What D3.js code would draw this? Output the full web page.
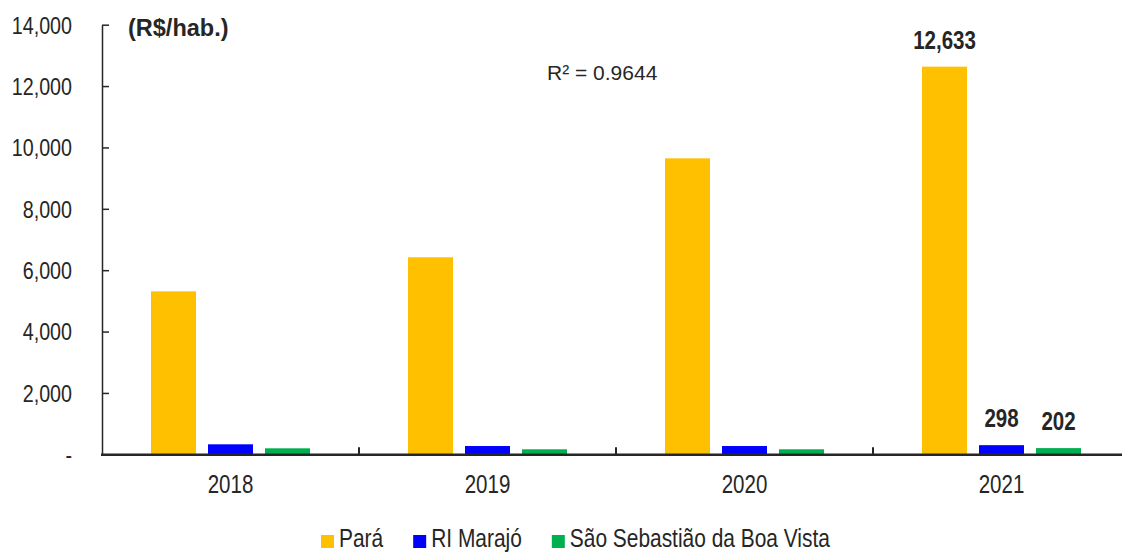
<!DOCTYPE html>
<html>
<head>
<meta charset="utf-8">
<script src="https://cdn.jsdelivr.net/npm/d3@7"></script>
<style>
  body { margin: 0; background: #fff; }
  svg text { font-family: "Liberation Sans Narrow", "Arial Narrow", "Liberation Sans", Arial, sans-serif; fill: #262626; }
</style>
</head>
<body>
<script>
// data
var years = ["2018", "2019", "2020", "2021"];
var series = ["Pará", "RI Marajó", "São Sebastião da Boa Vista"];
var para = [5310, 6420, 9645, 12633];
var marajo = [326, 270, 270, 298];
var ssbv = [195, 163, 163, 202];
var colors = ["#FFC000", "#0000FF", "#00B050"];
var yTicks = [0, 2000, 4000, 6000, 8000, 10000, 12000, 14000];
var unitLabel = "(R$/hab.)";
var r2Label = "R² = 0.9644";

var w = 1122, h = 553;
var x0 = 102, y0 = 454.3, yTop = 24.7;

// no narrow font installed -> squeeze the regular one to Arial Narrow width
function narrow(sel) {
  sel.each(function () {
    var len = this.getComputedTextLength();
    d3.select(this).attr("textLength", len * 0.82).attr("lengthAdjust", "spacingAndGlyphs");
  });
}

var svg = d3.select("body").append("svg")
  .attr("width", w).attr("height", h);

var values = [para, marajo, ssbv];
var rows = [];
years.forEach(function (yr, i) {
  series.forEach(function (s, j) {
    rows.push({ year: yr, s: s, j: j, v: values[j][i] });
  });
});

var x = d3.scaleBand().domain(years).range([x0, x0 + 4 * 257]);
var x1 = d3.scaleBand().domain(series).range([0, x.bandwidth()])
  .paddingInner(12 / 57).paddingOuter(49 / 57);
var y = d3.scaleLinear().domain([0, 14000]).range([y0, yTop]);

// bars
svg.append("g").selectAll("rect")
  .data(rows).enter().append("rect")
  .attr("x", function (d) { return x(d.year) + x1(d.s); })
  .attr("y", function (d) { return y(d.v); })
  .attr("width", x1.bandwidth())
  .attr("height", function (d) { return y0 - y(d.v); })
  .attr("fill", function (d) { return colors[d.j]; });

// y axis, ticks pointing inward
var yAxis = d3.axisLeft(y).tickValues(yTicks)
  .tickSizeInner(-7).tickSizeOuter(0).tickPadding(30)
  .tickFormat(function (d) { return d === 0 ? "-" : d3.format(",")(d); });
var gy = svg.append("g").attr("transform", "translate(" + x0 + ",0)").call(yAxis);
gy.selectAll("text").style("font-size", "24px").attr("dy", "0.35em").call(narrow);
gy.selectAll("line, path").attr("stroke", "#262626").attr("stroke-width", 1.5);

// x axis line + boundary ticks
svg.append("line")
  .attr("x1", x0 - 1).attr("x2", w).attr("y1", y0 + 0.5).attr("y2", y0 + 0.5)
  .attr("stroke", "#262626").attr("stroke-width", 2.5);
svg.append("g").selectAll("line")
  .data(years.slice(1)).enter().append("line")
  .attr("x1", function (d) { return x(d); }).attr("x2", function (d) { return x(d); })
  .attr("y1", y0).attr("y2", y0 - 7)
  .attr("stroke", "#262626").attr("stroke-width", 2);

svg.append("g").selectAll("text")
  .data(years).enter().append("text")
  .attr("x", function (d) { return x(d) + x.bandwidth() / 2; })
  .attr("y", y0 + 39)
  .attr("text-anchor", "middle")
  .style("font-size", "25px")
  .text(function (d) { return d; })
  .call(narrow);

// data labels for 2021
svg.append("g").selectAll("text")
  .data(rows.filter(function (d) { return d.year === "2021"; })).enter().append("text")
  .attr("x", function (d) { return x(d.year) + x1(d.s) + x1.bandwidth() / 2; })
  .attr("y", function (d) { return y(d.v) - 18; })
  .attr("text-anchor", "middle")
  .style("font-size", "25px").style("font-weight", "bold")
  .text(function (d) { return d3.format(",")(d.v); })
  .call(narrow);

svg.append("text").attr("x", 128).attr("y", 36)
  .style("font-size", "23.5px").style("font-weight", "bold")
  .text(unitLabel);

svg.append("text").attr("x", 547).attr("y", 80)
  .style("font-size", "21px")
  .text(r2Label);

// legend
var lg = svg.append("g");
var lx = 321;
series.forEach(function (s, j) {
  lg.append("rect").attr("x", lx).attr("y", 535).attr("width", 13).attr("height", 13)
    .attr("fill", colors[j]);
  var t = lg.append("text").attr("x", lx + 18).attr("y", 547)
    .style("font-size", "25.5px").text(s).call(narrow);
  lx = lx + 18 + t.node().getComputedTextLength() + 30;
});
</script>
</body>
</html>
